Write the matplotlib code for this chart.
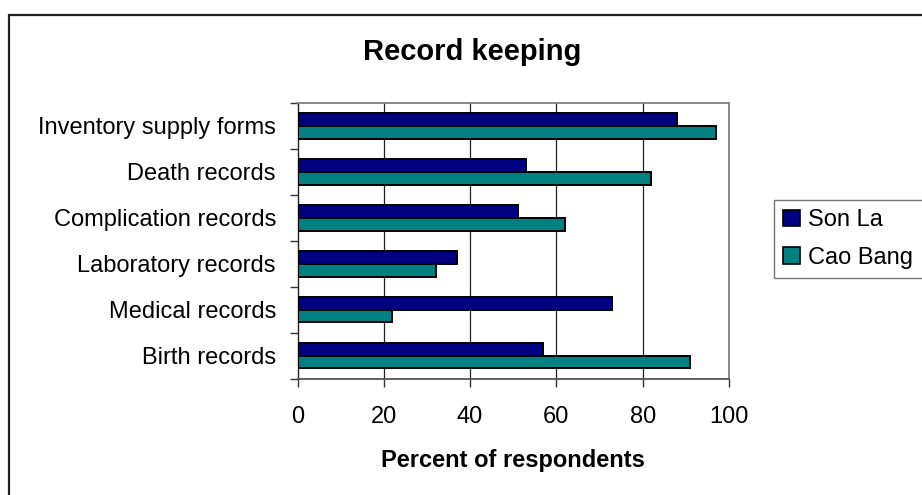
import matplotlib
matplotlib.use("Agg")
import matplotlib.pyplot as plt
from matplotlib.patches import Rectangle, Patch
import numpy as np

plt.rcParams['font.family'] = ['Liberation Sans', 'DejaVu Sans']

categories = ["Inventory supply forms", "Death records", "Complication records",
              "Laboratory records", "Medical records", "Birth records"]
son_la = [88, 53, 51, 37, 73, 57]
cao_bang = [97, 82, 62, 32, 22, 91]
series_names = ["Son La", "Cao Bang"]
x_ticks = [0, 20, 40, 60, 80, 100]

W, H = 922, 495
fig = plt.figure(figsize=(W / 100, H / 100), dpi=100)
fig.patch.set_facecolor("white")

# outer chart frame (open to the right and bottom)
fig.add_artist(Rectangle((9 / W, -0.1), 1.2, 1 - 15 / H + 0.1,
                         transform=fig.transFigure, fill=False,
                         edgecolor="#222222", linewidth=1.6))

ax = fig.add_axes([297.5 / W, 1 - 378.5 / H, (729 - 297.5) / W, (378.5 - 103) / H])

n = len(categories)
y = np.arange(n)
bh = 0.28
ax.barh(y - bh / 2, son_la, height=bh, color="#000080", edgecolor="black",
        linewidth=1.4, zorder=3, label=series_names[0])
ax.barh(y + bh / 2, cao_bang, height=bh, color="#008080", edgecolor="black",
        linewidth=1.4, zorder=3, label=series_names[1])

ax.set_xlim(0, 100)
ax.set_ylim(n - 0.5, -0.5)
ax.set_xticks(x_ticks)
ax.set_xticklabels([str(v) for v in x_ticks], fontsize=17)
ax.set_yticks(y)
ax.set_yticklabels(categories, fontsize=17)
ax.set_yticks(np.arange(n + 1) - 0.5, minor=True)

ax.tick_params(axis="y", which="major", length=0, pad=15.5)
ax.tick_params(axis="y", which="minor", length=6, width=1, color="#333333", direction="out")
ax.tick_params(axis="x", which="major", length=6, width=1, color="#333333",
               direction="out", pad=14)

for v in x_ticks[1:-1]:
    ax.axvline(v, color="#222222", linewidth=0.9, zorder=1)

for side in ["top", "right"]:
    ax.spines[side].set_color("#808080")
    ax.spines[side].set_linewidth(1.3)
ax.spines["left"].set_color("#222222")
ax.spines["left"].set_linewidth(1.0)
ax.spines["bottom"].set_color("#555555")
ax.spines["bottom"].set_linewidth(1.3)

fig.text(472 / W, 1 - 52 / H, "Record keeping", ha="center", va="center",
         fontsize=21, fontweight="bold")
fig.text(513 / W, 1 - 461 / H, "Percent of respondents", ha="center", va="center",
         fontsize=17, fontweight="bold")

handles = [Patch(facecolor="#000080", edgecolor="black", linewidth=1.2),
           Patch(facecolor="#008080", edgecolor="black", linewidth=1.2)]
leg = fig.legend(handles, series_names, loc="upper left",
                 bbox_to_anchor=(774 / W, 1 - 200 / H), fontsize=17,
                 frameon=True, fancybox=False, shadow=False, borderaxespad=0,
                 handlelength=0.7, handleheight=0.7, handletextpad=0.35,
                 labelspacing=0.65, borderpad=0.4)
leg.get_frame().set_edgecolor("#555555")
leg.get_frame().set_linewidth(1.0)

fig.savefig("out.png", dpi=100, facecolor="white")
